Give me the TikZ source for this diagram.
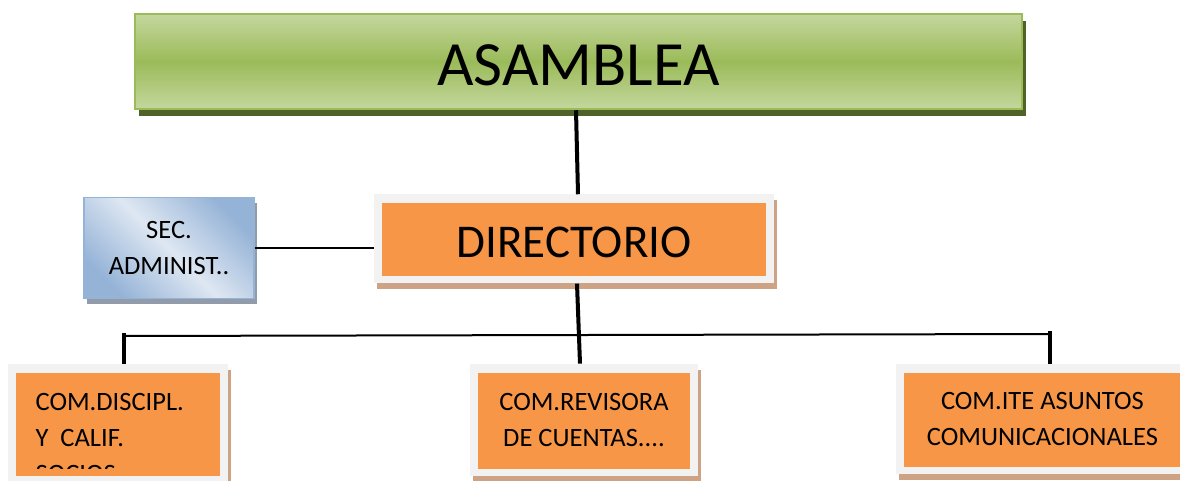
\documentclass[tikz,border=0pt]{standalone}
\usepackage{fontspec}
\setmainfont{Carlito}
\usetikzlibrary{positioning, shadows}
\definecolor{asamgreen}{RGB}{155,187,89}
\definecolor{asamlight}{RGB}{196,215,158}
\definecolor{asamshadow}{RGB}{79,98,40}
\definecolor{dirorange}{RGB}{247,150,70}
\definecolor{framegray}{RGB}{242,242,242}
\definecolor{shadowtan}{RGB}{206,163,133}
\definecolor{seclight}{RGB}{222,231,242}
\definecolor{secblue}{RGB}{149,179,215}
\definecolor{secshadow}{RGB}{145,155,170}
\tikzstyle{asam} = [rectangle, draw=asamgreen, line width=2.5pt, top color=asamlight, bottom color=asamlight, middle color=asamgreen, minimum width=887pt, minimum height=95pt, font=\fontsize{63}{70}\selectfont, text height=49pt, text depth=0pt, drop shadow={shadow xshift=4pt, shadow yshift=-7pt, fill=asamshadow, opacity=1}]
\tikzstyle{orgbox} = [rectangle, fill=framegray, inner sep=0pt, path picture={\fill[dirorange] ([shift={(8pt,-9pt)}]path picture bounding box.north west) rectangle ([shift={(-8pt,7pt)}]path picture bounding box.south east);}, drop shadow={shadow xshift=3pt, shadow yshift=-6pt, fill=shadowtan, opacity=1}]
\tikzstyle{secbox} = [rectangle, draw=secblue, line width=1.5pt, top color=secblue, bottom color=secblue, middle color=seclight, shading angle=-45, minimum width=170pt, minimum height=101pt, drop shadow={shadow xshift=3pt, shadow yshift=-6pt, fill=secshadow, opacity=1}]
\tikzstyle{smalltext} = [font=\fontsize{26.5}{36}\selectfont, align=center]
\tikzstyle{link} = [draw, line width=2pt]
\tikzstyle{vline} = [draw, line width=4pt]

\begin{document}
\begin{tikzpicture}[x=1pt, y=1pt]
        \clip (0,0) rectangle (1180,-481);

        \node (asamblea) [asam] at (578.5,-61.5) {ASAMBLEA};
        \node (directorio) [orgbox, minimum width=400pt, minimum height=89pt, below=84pt of asamblea, xshift=-4.5pt, font=\fontsize{47}{52}\selectfont, text height=37.7pt, text depth=0pt] {DIRECTORIO};
        \node (sec) [secbox, smalltext, left=119pt of directorio, yshift=-9pt] {SEC.\\ADMINIST..};

        \node (com2) [orgbox, smalltext, minimum width=228pt, minimum height=112pt, below=80pt of directorio, xshift=10pt] {COM.REVISORA\\DE CUENTAS....};
        \node (com1) [orgbox, minimum width=220pt, minimum height=119pt, left=242pt of com2, yshift=-3.5pt] {};
        \node (com3) [orgbox, smalltext, minimum width=292pt, minimum height=110pt, right=198pt of com2, yshift=1pt] {COM.ITE ASUNTOS\\COMUNICACIONALES};

        % text of the first committee is cut by its text frame
        \begin{scope}
            \clip ([shift={(8pt,-9pt)}]com1.north west) rectangle ([shift={(-8pt,15pt)}]com1.south east);
            \node (com1txt) [smalltext, align=left, inner sep=0pt, anchor=north west] at ([shift={(28pt,-29pt)}]com1.north west) {COM.DISCIPL.\\Y\ \ CALIF.\\SOCIOS};
        \end{scope}

        \coordinate (busL) at (124,-336);
        \coordinate (busR) at (1050,-334);

        \path [vline] ([xshift=-2.5pt]asamblea.south) -- ([xshift=4pt]directorio.north);
        \path [link] (sec.east) -- (sec.east -| directorio.west);
        \path [link] (busL) -- (busR);
        \path [vline] ([xshift=3pt]directorio.south) -- ([xshift=-4pt]com2.north);
        \path [vline] ([yshift=3pt]busL) -- (busL |- com1.north);
        \path [vline] ([yshift=3pt]busR) -- (busR |- com3.north);

    \end{tikzpicture}
\end{document}
